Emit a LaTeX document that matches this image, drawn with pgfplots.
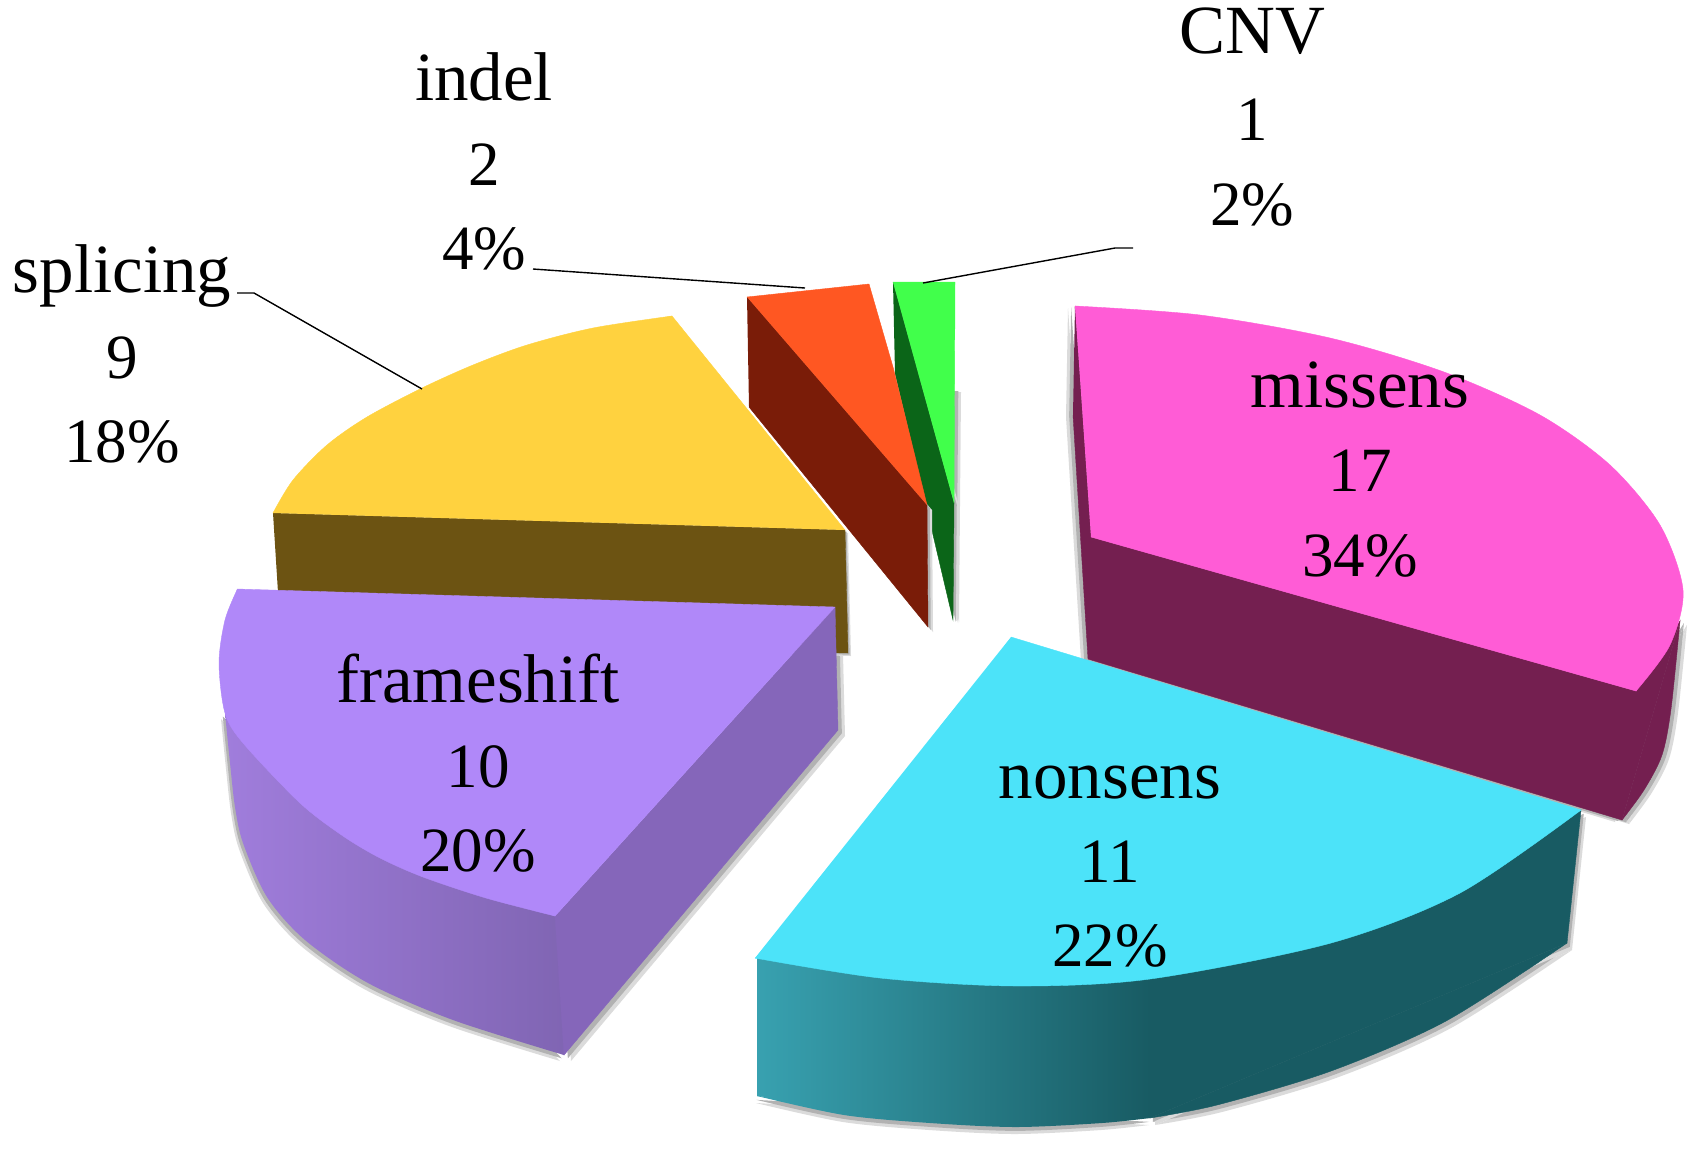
\documentclass[border=0pt]{standalone}
\usepackage{fontspec}
\setmainfont{Liberation Serif}
\usepackage{pgfplots}
\usepackage{pgfplotstable}
\pgfplotsset{compat=1.18}
\definecolor{pinkT}{HTML}{FF5CD6}\definecolor{pinkS}{HTML}{741F50}
\definecolor{cyanT}{HTML}{4CE3F9}\definecolor{cyanL}{HTML}{38A1B0}\definecolor{cyanR}{HTML}{185B63}
\definecolor{purpT}{HTML}{B088F9}\definecolor{purpL}{HTML}{A07DDC}\definecolor{purpR}{HTML}{8065B3}\definecolor{purpS}{HTML}{8566BA}
\definecolor{yelT}{HTML}{FFD23F}\definecolor{yelS}{HTML}{6C5312}
\definecolor{redT}{HTML}{FF5722}\definecolor{redS}{HTML}{7A1C08}
\definecolor{grnT}{HTML}{41FF4B}\definecolor{grnS}{HTML}{0B6518}

% splicing
\pgfplotstableread{
x y
273 513
327 452
422 395
527 352
672 316
845 530
}\yelTop
\pgfplotstableread{
x y
273 513
293 480
327 445
367 417
422 388
473 365
527 345
593 328
672 316
}\yelArc
\pgfplotstableread{
x y
273 513
845 530
848 653
281 640
}\yelSide
% indel
\pgfplotstableread{
x y
747 297
869 284
893 367
927 505
}\redTop
\pgfplotstableread{
x y
747 297
927 505
928 627
749 407
}\redSide
% CNV
\pgfplotstableread{
x y
893 282
955 282
954 503
}\grnTop
\pgfplotstableread{
x y
893 282
954 503
953 620
895 373
}\grnSide
\pgfplotstableread{
x y
955 390
954 503
953 620
900 390
}\grnShadow
% frameshift
\pgfplotstableread{
x y
237 589
835 607
555 916
423 865
305 797
240 725
228 660
232 610
}\purTop
\pgfplotstableread{
x y
555 916
486 898
423 877
380 858
343 836
300 803
243 743
225 713
219 663
225 620
237 590
}\purArc
\pgfplotstableread{
x y
225 713
564 916
564 1055
453 1005
368 965
290 905
245 820
}\purBand
\pgfplotstableread{
x y
225 713
230 763
235 807
243 843
267 897
305 940
368 983
453 1020
564 1055
}\purLow
\pgfplotstableread{
x y
835 607
838 730
564 1055
555 916
}\purSide
% missens
\pgfplotstableread{
x y
1075 306
1330 350
1540 425
1660 535
1670 630
1636 691
1091 537
}\pinkTop
\pgfplotstableread{
x y
1075 306
1200 315
1330 338
1444 372
1540 415
1610 465
1660 525
1683 590
1670 645
1636 691
}\pinkArc
\pgfplotstableread{
x y
1075 306
1091 537
1636 691
1680 621
1622 820
1088 659
1073 415
}\pinkSide
\pgfplotstableread{
x y
1680 621
1671 709
1662 755
1644 790
1622 820
}\pinkLow
% nonsens
\pgfplotstableread{
x y
1011 637
1581 810
1460 880
1331 930
1150 968
1016 975
880 967
755 958
}\cyanTop
\pgfplotstableread{
x y
755 958
880 978
1016 986
1150 979
1331 943
1460 893
1581 810
}\cyanArc
\pgfplotstableread{
x y
757 958
1150 970
1150 1118
1016 1120
900 1112
757 1096
}\cyanBandL
\pgfplotstableread{
x y
757 1096
844 1115
930 1123
1016 1127
1102 1123
1150 1118
}\cyanLowL
\pgfplotstableread{
x y
1150 970
1581 810
1567 943
1150 1118
}\cyanBandR
\pgfplotstableread{
x y
1150 1118
1217 1105
1331 1071
1446 1021
1567 943
}\cyanLowR

\newcommand{\poly}[2]{\addplot[draw=#1,line width=0.2pt,fill=#1] table[x=x,y=y]{#2};}
\newcommand{\arcf}[2]{\addplot[smooth,draw=#1,line width=0.2pt,fill=#1] table[x=x,y=y]{#2};}
% soft shadow: two offset copies in greys, under the slices
\newcommand{\shadow}[4][]{%
 \addplot[#1,draw=none,fill=gray!28] table[x expr=\thisrow{x}+#3,y expr=\thisrow{y}+#4]{#2};%
 \addplot[#1,draw=none,fill=gray!60] table[x expr=\thisrow{x}+#3*0.55,y expr=\thisrow{y}+#4*0.55]{#2};}
\newcommand{\lbl}[3]{\node[anchor=base,inner sep=0pt,text=black] at (axis cs:#1,#2) {\fontsize{34.5}{40}\selectfont #3};}
\newcommand{\val}[3]{\node[anchor=base,inner sep=0pt,text=black] at (axis cs:#1,#2) {\fontsize{31.5}{40}\selectfont #3};}

\begin{document}
\begin{tikzpicture}
\useasboundingbox (0,0) rectangle (848.5pt,574pt);
\begin{axis}[
  at={(0,0)},anchor=south west,
  width=848.5pt,height=574pt,scale only axis,
  xmin=0,xmax=1697,ymin=0,ymax=1148,y dir=reverse,
  hide axis,clip=false]
% shadows
\shadow{\pinkSide}{7}{4}
\shadow[smooth]{\pinkLow}{7}{4}
\shadow{\pinkSide}{-7}{2}
\shadow[smooth]{\cyanLowL}{-1}{7}
\shadow[smooth]{\cyanLowR}{5}{7}
\shadow{\cyanBandR}{5}{7}
\shadow[smooth]{\purLow}{-4}{6}
\shadow{\purSide}{7}{6}
\shadow{\yelSide}{3}{3}
\shadow{\grnShadow}{6}{2}
\shadow{\grnSide}{5}{3}
% splicing
\poly{yelS}{\yelSide}
\poly{yelT}{\yelTop}
\arcf{yelT}{\yelArc}
% CNV
\poly{grnS}{\grnSide}
\poly{grnT}{\grnTop}
% indel
\shadow{\redSide}{5}{5}
\poly{redS}{\redSide}
\poly{redT}{\redTop}
% frameshift
\addplot[draw=none,left color=purpL,right color=purpR] table[x=x,y=y]{\purBand};
\addplot[smooth,draw=none,left color=purpL,right color=purpR] table[x=x,y=y]{\purLow};
\poly{purpS}{\purSide}
\poly{purpT}{\purTop}
\arcf{purpT}{\purArc}
% missens
\poly{pinkS}{\pinkSide}
\arcf{pinkS}{\pinkLow}
\poly{pinkT}{\pinkTop}
\arcf{pinkT}{\pinkArc}
% nonsens
\addplot[draw=none,left color=cyanL,right color=cyanR] table[x=x,y=y]{\cyanBandL};
\addplot[smooth,draw=none,left color=cyanL,right color=cyanR] table[x=x,y=y]{\cyanLowL};
\poly{cyanR}{\cyanBandR}
\arcf{cyanR}{\cyanLowR}
\poly{cyanT}{\cyanTop}
\arcf{cyanT}{\cyanArc}
% leader lines
\addplot[black,line width=0.7pt] coordinates {(237,293)(254,293)(422,389)};
\addplot[black,line width=0.7pt] coordinates {(533,269)(805,288)};
\addplot[black,line width=0.7pt] coordinates {(923,283)(1115,248)(1133,248)};
% labels
\lbl{1252}{53}{CNV}
\val{1252}{140}{1}
\val{1252}{225}{2\%}
\lbl{484}{100}{indel}
\val{484}{185}{2}
\val{484}{269}{4\%}
\lbl{122}{292}{splicing}
\val{122}{378}{9}
\val{122}{462}{18\%}
\lbl{1360}{407}{missens}
\val{1360}{491}{17}
\val{1360}{576}{34\%}
\lbl{1110}{798}{nonsens}
\val{1110}{882}{11}
\val{1110}{966}{22\%}
\lbl{478}{702}{frameshift}
\val{478}{787}{10}
\val{478}{871}{20\%}
\end{axis}
\end{tikzpicture}
\end{document}
